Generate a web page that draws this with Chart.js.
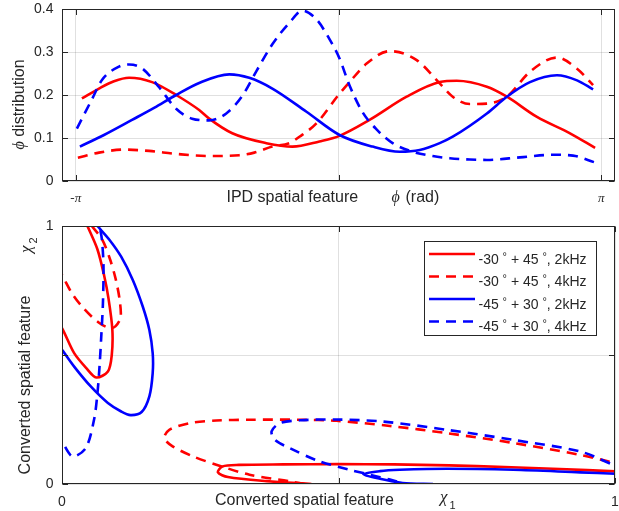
<!DOCTYPE html>
<html><head><meta charset="utf-8">
<script src="https://cdn.jsdelivr.net/npm/chart.js@4/dist/chart.umd.min.js"></script>
<style>
html,body{margin:0;padding:0;background:#fff;}
#w1{position:absolute;left:0;top:0;width:619px;height:215px;}
#w2{position:absolute;left:0;top:215px;width:619px;height:296px;}
</style></head><body>
<div id="w1"><canvas id="c1" width="619" height="215"></canvas></div>
<div id="w2"><canvas id="c2" width="619" height="296"></canvas></div>
<script>
// ---------- top panel: IPD (phi, rad) distributions ----------
const phiRed2k  = [-3.068,-2.864,-2.684,-2.504,-2.229,-1.941,-1.666,-1.546,-1.270,-0.863,-0.551,-0.228,0.012,0.371,0.815,1.210,1.414,1.774,2.013,2.373,2.768,3.068];
const distRed2k = [0.192,0.215,0.232,0.240,0.230,0.200,0.165,0.145,0.111,0.088,0.080,0.092,0.105,0.142,0.196,0.230,0.233,0.219,0.196,0.149,0.111,0.077];
const phiRed4k  = [-3.116,-2.864,-2.564,-2.265,-1.941,-1.546,-1.186,-1.007,-0.791,-0.587,-0.467,-0.264,0,0.132,0.336,0.611,0.935,1.210,1.366,1.570,1.774,2.013,2.289,2.612,2.852,3.044];
const distRed4k = [0.054,0.066,0.073,0.070,0.063,0.058,0.060,0.066,0.080,0.088,0.103,0.134,0.200,0.230,0.273,0.302,0.281,0.227,0.196,0.179,0.180,0.196,0.254,0.287,0.261,0.223];
const phiBlue2k  = [-3.092,-2.804,-2.469,-2.205,-1.941,-1.666,-1.306,-1.067,-0.791,-0.383,0.012,0.407,0.731,0.971,1.210,1.366,1.774,2.013,2.289,2.612,2.852,3.044];
const distBlue2k = [0.080,0.107,0.142,0.170,0.200,0.228,0.248,0.240,0.215,0.161,0.107,0.080,0.068,0.072,0.088,0.103,0.157,0.196,0.230,0.246,0.234,0.213];
const phiBlue4k  = [-3.128,-2.948,-2.828,-2.624,-2.504,-2.349,-2.145,-1.941,-1.750,-1.546,-1.342,-1.150,-0.983,-0.791,-0.587,-0.431,-0.264,-0.108,0.012,0.132,0.288,0.455,0.647,0.887,1.126,1.330,1.570,1.774,2.169,2.564,2.804,3.068];
const distBlue4k = [0.122,0.190,0.235,0.266,0.271,0.262,0.218,0.168,0.145,0.141,0.157,0.198,0.255,0.318,0.368,0.396,0.376,0.330,0.285,0.222,0.160,0.120,0.088,0.068,0.058,0.053,0.050,0.049,0.055,0.061,0.059,0.043];

const topXTicks = [-Math.PI, 0, Math.PI];
const topXTickLabels = ['-\u03C0', '', '\u03C0'];
const topYTicks = [0, 0.1, 0.2, 0.3, 0.4];
const topYTickLabels = ['0', '0.1', '0.2', '0.3', '0.4'];

// ---------- bottom panel: converted features (chi1, chi2) ----------
// each curve leaves the axes and re-enters, so it is given as two visible pieces
const chi1Red2kA = [-0.01,0,0.022,0.044,0.062,0.083,0.090,0.091,0.084,0.076,0.064,0.046,0.040];
const chi2Red2kA = [0.63,0.604,0.507,0.449,0.413,0.436,0.50,0.60,0.72,0.81,0.91,1.0,1.03];
const chi1Red2kB = [1.02,1.0,0.9,0.8,0.7,0.6,0.5,0.4,0.32,0.29,0.282,0.30,0.37,0.451];
const chi2Red2kB = [0.046,0.049,0.058,0.066,0.072,0.076,0.077,0.076,0.074,0.068,0.045,0.027,0.011,0.0];
const chi1Red4kA = [-0.01,0,0.018,0.039,0.065,0.086,0.097,0.106,0.104,0.097,0.087,0.073,0.054,0.048];
const chi2Red4kA = [0.84,0.81,0.739,0.681,0.628,0.604,0.612,0.646,0.717,0.795,0.87,0.946,1.0,1.02];
const chi1Red4kB = [1.02,1.0,0.937,0.816,0.696,0.593,0.496,0.43,0.339,0.279,0.231,0.194,0.185,0.2,0.237,0.279,0.339,0.412,0.45];
const chi2Red4kB = [0.07,0.081,0.113,0.159,0.197,0.225,0.245,0.249,0.249,0.246,0.236,0.21,0.178,0.146,0.107,0.075,0.036,0.01,-0.005];
const chi1Blue2kA = [-0.01,0,0.022,0.052,0.083,0.107,0.124,0.144,0.158,0.164,0.164,0.158,0.146,0.128,0.107,0.086,0.064,0.056];
const chi2Blue2kA = [0.545,0.52,0.455,0.378,0.314,0.281,0.267,0.279,0.34,0.43,0.507,0.597,0.688,0.791,0.881,0.946,1.0,1.02];
const chi1Blue2kB = [1.02,1.0,0.937,0.816,0.696,0.611,0.575,0.545,0.575,0.616,0.671];
const chi2Blue2kB = [0.038,0.04,0.045,0.055,0.059,0.055,0.05,0.038,0.02,0.004,0.0];
const chi1Blue4kA = [-0.01,0,0.019,0.043,0.058,0.064,0.068,0.071,0.074,0.075,0.072,0.068,0.067];
const chi2Blue4kA = [0.2,0.165,0.107,0.139,0.25,0.35,0.46,0.572,0.70,0.85,0.95,1.0,1.02];
const chi1Blue4kB = [1.02,1.0,0.937,0.816,0.696,0.581,0.496,0.43,0.394,0.379,0.385,0.412,0.463,0.52,0.557,0.593,0.623];
const chi2Blue4kB = [0.06,0.072,0.126,0.171,0.21,0.242,0.25,0.247,0.236,0.204,0.171,0.139,0.09,0.055,0.036,0.017,0.0];

const botTicks = [0, 0.5, 1];
const botTickLabels = ['0', '', '1'];
const legendLabels = ['-30 \u00B0 + 45 \u00B0, 2kHz', '-30 \u00B0 + 45 \u00B0, 4kHz', '-45 \u00B0 + 30 \u00B0, 2kHz', '-45 \u00B0 + 30 \u00B0, 4kHz'];

// ---------- styling ----------
const AX = '#262626';
const GRID = 'rgba(38,38,38,0.14)';
const SANS = "'Liberation Sans', Arial, sans-serif";
const SERIF = "'Liberation Serif', 'Times New Roman', serif";
const RED = '#ff0000', BLUE = '#0000ff';
const DASH = [10, 7];
const styles = [
  {color: RED, dash: []}, {color: RED, dash: DASH},
  {color: BLUE, dash: []}, {color: BLUE, dash: DASH}
];

function pts(xs, ys) { return xs.map((x, i) => ({x: x, y: ys[i]})); }
function ds(k, xs, ys, extra) {
  return Object.assign({
    label: legendLabels[k], data: pts(xs, ys),
    borderColor: styles[k].color, backgroundColor: styles[k].color,
    borderDash: styles[k].dash, borderWidth: 2.6, borderCapStyle: 'butt',
    pointRadius: 0, pointHoverRadius: 0, showLine: true, fill: false, clip: 0,
    order: 4 - k
  }, extra || {});
}

function axisScale(min, max, ticks, w, h, isX) {
  return {
    type: 'linear', min: min, max: max,
    afterBuildTicks: s => { s.ticks = ticks.map(v => ({value: v})); },
    afterFit: s => { if (isX) s.height = h; else s.width = w; },
    ticks: {display: false},
    grid: {color: GRID, lineWidth: 1, drawTicks: false},
    border: {display: false}
  };
}

function framePlugin(xLabels, yLabels, xLabelBase, extra) {
  return {
    id: 'frame',
    afterDraw(chart) {
      const ctx = chart.ctx, a = chart.chartArea, sx = chart.scales.x, sy = chart.scales.y;
      const L = Math.round(a.left) + 0.5, R = Math.round(a.right) - 0.5;
      const T = Math.round(a.top) + 0.5, B = Math.round(a.bottom) - 0.5;
      ctx.save();
      ctx.strokeStyle = AX; ctx.lineWidth = 1; ctx.setLineDash([]);
      ctx.strokeRect(L, T, R - L, B - T);
      ctx.beginPath();
      const tl = 5.5;
      sx.ticks.forEach(t => {
        const p = Math.round(sx.getPixelForValue(t.value)) + 0.5;
        ctx.moveTo(p, B); ctx.lineTo(p, B - tl); ctx.moveTo(p, T); ctx.lineTo(p, T + tl);
      });
      sy.ticks.forEach(t => {
        const p = Math.round(sy.getPixelForValue(t.value)) + 0.5;
        ctx.moveTo(L, p); ctx.lineTo(L + tl, p); ctx.moveTo(R, p); ctx.lineTo(R - tl, p);
      });
      ctx.stroke();
      ctx.fillStyle = AX;
      // y tick labels
      ctx.font = '14px ' + SANS; ctx.textAlign = 'right'; ctx.textBaseline = 'middle';
      sy.ticks.forEach((t, i) => { if (yLabels[i]) ctx.fillText(yLabels[i], a.left - 8.5, sy.getPixelForValue(t.value) + 0.5); });
      // x tick labels
      ctx.textAlign = 'center'; ctx.textBaseline = 'alphabetic';
      sx.ticks.forEach((t, i) => {
        if (!xLabels.items[i]) return;
        ctx.font = xLabels.font;
        ctx.fillText(xLabels.items[i], sx.getPixelForValue(t.value), xLabelBase);
      });
      extra(chart, ctx, a);
      ctx.restore();
    }
  };
}

// ---------- top chart ----------
new Chart(document.getElementById('c1'), {
  type: 'scatter',
  data: {datasets: [
    ds(0, phiRed2k, distRed2k, {cubicInterpolationMode: 'monotone'}),
    ds(1, phiRed4k, distRed4k, {cubicInterpolationMode: 'monotone'}),
    ds(2, phiBlue2k, distBlue2k, {cubicInterpolationMode: 'monotone'}),
    ds(3, phiBlue4k, distBlue4k, {cubicInterpolationMode: 'monotone'})
  ]},
  options: {
    responsive: false, animation: false, devicePixelRatio: 1,
    layout: {padding: {left: 0, right: 4, top: 9, bottom: 0}},
    plugins: {legend: {display: false}, tooltip: {enabled: false}},
    events: [],
    scales: {
      x: axisScale(-3.306, 3.306, topXTicks, 0, 34, true),
      y: axisScale(0, 0.4, topYTicks, 62, 0, false)
    }
  },
  plugins: [framePlugin({items: topXTickLabels, font: 'italic 13px ' + SERIF}, topYTickLabels, 201.5, (chart, ctx, a) => {
    // x title
    ctx.textAlign = 'left'; ctx.textBaseline = 'alphabetic';
    const cx = (a.left + a.right) / 2;
    ctx.font = '16px ' + SANS;
    ctx.fillText('IPD spatial feature', cx - 112, 201.5);
    ctx.font = 'italic 16px ' + SERIF;
    ctx.fillText('\u03D5', cx + 53, 201.5);
    ctx.font = '16px ' + SANS;
    ctx.fillText('(rad)', cx + 67, 201.5);
    // y title
    ctx.save();
    ctx.translate(20, 104.5); ctx.rotate(-Math.PI / 2);
    ctx.textBaseline = 'middle';
    ctx.font = 'italic 16px ' + SERIF; const w1 = ctx.measureText('\u03D5').width;
    ctx.font = '16px ' + SANS; const w2 = ctx.measureText(' distribution').width;
    const x0 = -(w1 + w2) / 2;
    ctx.font = 'italic 16px ' + SERIF; ctx.fillText('\u03D5', x0, 0);
    ctx.font = '16px ' + SANS; ctx.fillText(' distribution', x0 + w1, 0);
    ctx.restore();
  })]
});

// ---------- bottom chart ----------
new Chart(document.getElementById('c2'), {
  type: 'scatter',
  data: {datasets: [
    ds(0, chi1Red2kA, chi2Red2kA, {tension: 0.3}),
    ds(0, chi1Red2kB, chi2Red2kB, {tension: 0.3}),
    ds(1, chi1Red4kA, chi2Red4kA, {tension: 0.3}),
    ds(1, chi1Red4kB, chi2Red4kB, {tension: 0.3}),
    ds(2, chi1Blue2kA, chi2Blue2kA, {tension: 0.3}),
    ds(2, chi1Blue2kB, chi2Blue2kB, {tension: 0.3}),
    ds(3, chi1Blue4kA, chi2Blue4kA, {tension: 0.3}),
    ds(3, chi1Blue4kB, chi2Blue4kB, {tension: 0.3})
  ]},
  options: {
    responsive: false, animation: false, devicePixelRatio: 1,
    layout: {padding: {left: 0, right: 4, top: 11, bottom: 0}},
    plugins: {legend: {display: false}, tooltip: {enabled: false}},
    events: [],
    scales: {
      x: axisScale(0, 1, botTicks, 0, 27, true),
      y: axisScale(0, 1, botTicks, 62, 0, false)
    }
  },
  plugins: [framePlugin({items: botTickLabels, font: '14px ' + SANS}, botTickLabels, 290.5, (chart, ctx, a) => {
    ctx.textAlign = 'left'; ctx.textBaseline = 'alphabetic';
    // x title
    ctx.font = '16px ' + SANS;
    ctx.fillText('Converted spatial feature', 215, 290);
    ctx.font = 'italic 17px ' + SERIF;
    ctx.fillText('\u03C7', 440, 287);
    ctx.font = '11px ' + SANS;
    ctx.fillText('1', 449.5, 294);
    // y title
    ctx.save();
    ctx.translate(26, 170); ctx.rotate(-Math.PI / 2);
    ctx.textAlign = 'center'; ctx.textBaseline = 'middle';
    ctx.font = '16px ' + SANS;
    ctx.fillText('Converted spatial feature', 0, 0);
    ctx.restore();
    ctx.save();
    ctx.translate(31, 38); ctx.rotate(-Math.PI / 2);
    ctx.textAlign = 'left'; ctx.textBaseline = 'alphabetic';
    ctx.font = 'italic 17px ' + SERIF;
    ctx.fillText('\u03C7', 0, 0);
    ctx.font = '11px ' + SANS;
    ctx.fillText('2', 9.5, 6);
    ctx.restore();
    // legend
    const bx = 424.5, by = 26.5, bw = 172, bh = 94;
    ctx.fillStyle = '#fff'; ctx.fillRect(bx, by, bw, bh);
    ctx.strokeStyle = AX; ctx.lineWidth = 1; ctx.strokeRect(bx, by, bw, bh);
    legendLabels.forEach((lab, i) => {
      const ly = by + 12.5 + i * 22.5;
      ctx.strokeStyle = styles[i].color; ctx.lineWidth = 2.6; ctx.setLineDash(styles[i].dash);
      ctx.beginPath(); ctx.moveTo(429, ly); ctx.lineTo(475, ly); ctx.stroke();
      ctx.setLineDash([]);
      ctx.fillStyle = AX; ctx.textBaseline = 'alphabetic'; ctx.textAlign = 'left';
      let x = 478.5; const base = ly + 9.5;
      lab.split('\u00B0').forEach((part, j, arr) => {
        ctx.font = '14px ' + SANS;
        ctx.fillText(part, x, base); x += ctx.measureText(part).width;
        if (j < arr.length - 1) {
          ctx.font = '11px ' + SANS;
          ctx.fillText('\u00B0', x, base - 4); x += ctx.measureText('\u00B0').width;
        }
      });
    });
  })]
});
</script></body></html>
